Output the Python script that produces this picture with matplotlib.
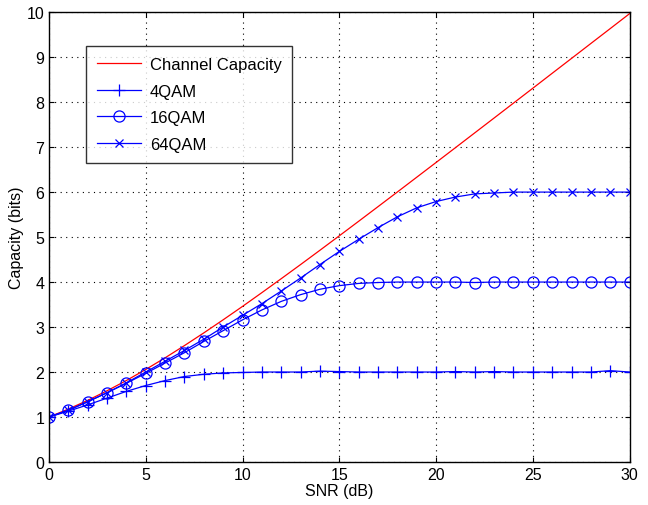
import numpy as np
import matplotlib
matplotlib.use('Agg')
import matplotlib.pyplot as plt

plt.rcParams['font.family'] = ['Liberation Sans', 'DejaVu Sans']

# SNR em dB
snr = list(range(0, 31))

capacidade = [1.000, 1.176, 1.370, 1.583, 1.812, 2.057, 2.316, 2.588, 2.870, 3.161,
              3.459, 3.765, 4.075, 4.389, 4.707, 5.028, 5.351, 5.676, 6.002, 6.330,
              6.658, 6.987, 7.317, 7.647, 7.978, 8.309, 8.641, 8.972, 9.304, 9.635,
              9.967]

qam4 = [1.00, 1.13, 1.27, 1.42, 1.57, 1.70, 1.81, 1.90, 1.95, 1.98,
        1.99, 2.00, 2.00, 2.00, 2.02, 2.01, 2.00, 2.00, 2.00, 2.00,
        2.00, 2.01, 2.00, 2.01, 2.00, 2.00, 2.00, 2.00, 2.00, 2.03,
        2.00]

qam16 = [1.00, 1.15, 1.34, 1.54, 1.75, 1.97, 2.20, 2.43, 2.68, 2.92,
         3.16, 3.38, 3.57, 3.72, 3.84, 3.92, 3.97, 3.99, 4.00, 4.00,
         4.00, 4.00, 3.99, 4.00, 4.00, 4.00, 4.00, 4.00, 4.00, 4.00,
         4.00]

qam64 = [1.00, 1.15, 1.34, 1.54, 1.76, 2.00, 2.24, 2.48, 2.73, 3.00,
         3.26, 3.52, 3.80, 4.09, 4.39, 4.68, 4.95, 5.21, 5.45, 5.65,
         5.79, 5.89, 5.96, 5.98, 6.00, 6.00, 6.00, 6.00, 6.00, 6.00,
         6.00]

fig = plt.figure(figsize=(6.48, 5.06), dpi=100)
ax = fig.add_axes([0.0756, 0.085, 0.896, 0.889])

ax.plot(snr, capacidade, color='r', lw=0.9, label='Channel Capacity')
ax.plot(snr, qam4, color='b', lw=0.9, marker='+', ms=8, mew=0.9, label='4QAM')
ax.plot(snr, qam16, color='b', lw=0.9, marker='o', ms=8, mew=0.9, mfc='none', label='16QAM')
ax.plot(snr, qam64, color='b', lw=0.9, marker='x', ms=6, mew=0.9, label='64QAM')

ax.set_xlim(0, 30)
ax.set_ylim(0, 10)
ax.set_xticks(range(0, 31, 5))
ax.set_yticks(range(0, 11))
ax.grid(True, ls=(0, (1, 4)), color='k', lw=0.8)
ax.tick_params(direction='in', top=True, right=True, labelsize=11.5)
for s in ax.spines.values():
    s.set_linewidth(1.0)

ax.set_xlabel('SNR (dB)', fontsize=11.5, labelpad=1)
ax.set_ylabel('Capacity (bits)', fontsize=11.5, labelpad=2)

leg = ax.legend(loc='upper left', bbox_to_anchor=(0.05, 0.943), fancybox=False,
                edgecolor='k', fontsize=12, handlelength=2.6, borderpad=0.65,
                labelspacing=0.7, handletextpad=0.55)
leg.get_frame().set_linewidth(1.0)

plt.savefig('out.png', dpi=100)
